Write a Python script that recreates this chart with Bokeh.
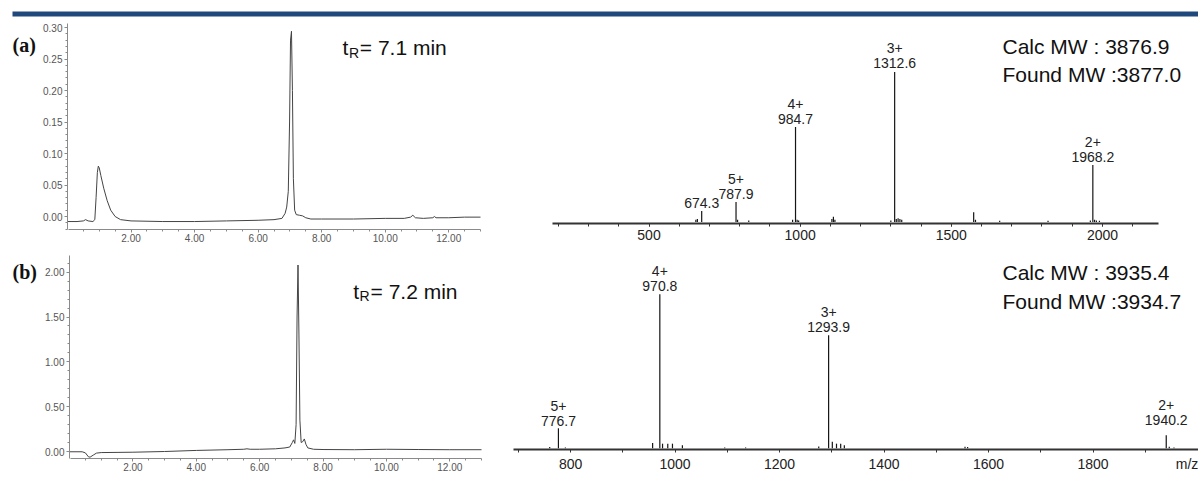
from bokeh.plotting import figure
from bokeh.models import (ColumnDataSource, Range1d, SingleIntervalTicker, FixedTicker,
                          NumeralTickFormatter, Label, LinearAxis)
from bokeh.embed import file_html
from bokeh.resources import INLINE
from bokeh.core.properties import value

# ---------------- data ----------------
# HPLC chromatogram (a): retention time (min) / absorbance
hplc_a_t = [0.0, 0.3, 0.5, 0.57, 0.65, 0.8, 0.86, 0.9, 0.94, 0.97, 1.0, 1.05, 1.14,
            1.25, 1.36, 1.5, 1.67, 2.0, 3.0, 4.0, 5.0, 6.0, 6.5, 6.75, 6.85, 6.9,
            6.95, 6.99, 7.02, 7.05, 7.08, 7.11, 7.15, 7.2, 7.3, 7.4, 7.5, 7.66, 8.0,
            9.0, 10.0, 10.6, 10.8, 10.87, 10.95, 11.2, 11.5, 11.55, 11.6, 12.0, 12.5, 13.0]
hplc_a_abs = [-0.008, -0.008, -0.007, -0.005, -0.007, -0.008, -0.005, 0.03, 0.07, 0.080,
              0.077, 0.065, 0.045, 0.025, 0.010, 0.000, -0.005, -0.007, -0.008, -0.008,
              -0.007, -0.006, -0.005, -0.003, 0.005, 0.015, 0.04, 0.15, 0.28, 0.294, 0.20,
              0.06, 0.01, 0.003, 0.002, 0.001, -0.002, -0.004, -0.004, -0.004, -0.003,
              -0.003, -0.001, 0.002, -0.002, -0.003, -0.002, 0.000, -0.002, -0.002,
              -0.001, -0.001]

# HPLC chromatogram (b)
hplc_b_t = [0.0, 0.4, 0.5, 0.6, 0.65, 0.75, 0.85, 1.0, 1.5, 2.0, 3.0, 4.0, 5.0, 5.5,
            5.6, 5.7, 6.0, 6.5, 6.8, 6.95, 7.03, 7.07, 7.11, 7.15, 7.18, 7.21, 7.24,
            7.27, 7.31, 7.36, 7.41, 7.46, 7.52, 7.7, 8.0, 9.0, 10.0, 11.0, 12.0, 13.0]
hplc_b_abs = [-0.003, -0.003, -0.015, -0.060, -0.063, -0.040, -0.018, -0.012, -0.010,
              -0.008, 0.000, 0.012, 0.020, 0.025, 0.030, 0.025, 0.025, 0.030, 0.040,
              0.050, 0.100, 0.130, 0.090, 0.300, 1.500, 2.080, 1.300, 0.350, 0.100,
              0.110, 0.140, 0.080, 0.040, 0.025, 0.022, 0.020, 0.025, 0.022, 0.020, 0.020]

# ESI-MS (a): all sticks (m/z, relative intensity)
ms_a_mz = [655, 660, 674.3, 787.9, 793, 830, 975, 984.7, 990, 995, 1105, 1110, 1115,
           1300, 1312.6, 1318, 1324, 1330, 1336, 1574, 1580, 1660, 1820, 1960,
           1968.2, 1974, 1980, 1990]
ms_a_int = [1.5, 2.0, 7.3, 13.3, 1.5, 1.0, 1.5, 63.3, 1.5, 1.0, 2.0, 3.5, 1.5,
            1.0, 100.0, 2.0, 2.5, 2.0, 1.5, 6.5, 1.5, 0.8, 0.8, 1.0,
            38.0, 1.5, 1.0, 0.8]
ms_a_label_mz = [674.3, 787.9, 984.7, 1312.6, 1968.2]
ms_a_label_int = [7.3, 13.3, 63.3, 100.0, 38.0]
ms_a_label_charge = ["", "5+", "4+", "3+", "2+"]

# ESI-MS (b)
ms_b_mz = [760, 776.7, 790, 957, 970.8, 976, 986, 995, 1014, 1095, 1135, 1275,
           1293.9, 1301, 1309, 1317, 1324, 1555, 1560, 1940.2, 1946, 1955]
ms_b_int = [0.8, 13.0, 0.5, 3.4, 100.0, 3.0, 3.0, 3.0, 2.0, 0.5, 0.6, 1.2,
            73.4, 4.3, 3.0, 3.0, 2.0, 1.0, 0.8, 8.4, 1.0, 0.6]
ms_b_label_mz = [776.7, 970.8, 1293.9, 1940.2]
ms_b_label_int = [13.0, 100.0, 73.4, 8.4]
ms_b_label_charge = ["5+", "4+", "3+", "2+"]

ms_b_ticks = [800, 1000, 1200, 1400, 1600, 1800]
ms_b_unit = "m/z"

info_a = ["Calc MW : 3876.9", "Found MW :3877.0"]
info_b = ["Calc MW : 3935.4", "Found MW :3934.7"]
tr_a = "= 7.1 min"
tr_b = "= 7.2 min"

# ---------------- styling / layout ----------------
SANS = "Liberation Sans"
SERIF = "Liberation Serif"
BLUE = "#1f497d"
W, H = 1198, 481

p = figure(width=W, height=H, x_range=Range1d(0, W), y_range=Range1d(H, 0),
           output_backend="svg", toolbar_location=None, title=None,
           x_axis_location=None, y_axis_location=None,
           min_border=0, min_border_left=0, min_border_right=0,
           min_border_top=0, min_border_bottom=0)
p.xgrid.visible = False
p.ygrid.visible = False
p.outline_line_color = None


def xrange_(v0, px0, s):
    return Range1d(v0 - px0 / s, v0 + (W - px0) / s)


def yrange_(w0, py0, k):
    return Range1d(w0 - (H - py0) / k, w0 + py0 / k)


# panel coordinate systems (value at a pixel position, pixels per unit)
p.extra_x_ranges = {
    "ta": xrange_(0.0, 67, 413 / 13.0),
    "tb": xrange_(0.0, 69, 412 / 13.0),
    "ma": xrange_(500.0, 648.5, 0.3023),
    "mb": xrange_(800.0, 570.1, 0.5224),
}
p.extra_y_ranges = {
    "aa": yrange_(0.0, 216, 630.0),
    "ab": yrange_(0.0, 451, 89.66),
    "ia": yrange_(0.0, 221.5, 1.5),
    "ib": yrange_(0.0, 447.8, 1.54),
}

# banner (decoration, page coordinates)
p.quad(left=[12], right=[1198], top=[11], bottom=[16], fill_color=BLUE, line_color=None)

# panel tags
p.text(x=[12, 12], y=[44.3, 271.5], text=["(a)", "(b)"], text_font=value(SERIF),
       text_font_style="bold", text_font_size="20px", text_color="#111111",
       text_baseline="middle")


def chrom(t, a, xn, yn, ybot, ytop, yint, tr_text, tr_pos):
    p.line(t, a, line_color="#444444", line_width=1, x_range_name=xn, y_range_name=yn)
    xa = LinearAxis(x_range_name=xn, y_range_name=yn, fixed_location=ybot,
                    bounds=(0.03, 13.0),
                    ticker=SingleIntervalTicker(interval=2, num_minor_ticks=4))
    ya = LinearAxis(x_range_name=xn, y_range_name=yn, fixed_location=0.0,
                    bounds=(ybot, ytop),
                    ticker=SingleIntervalTicker(interval=yint, num_minor_ticks=5))
    for ax in (xa, ya):
        ax.axis_line_color = "#8a8a8a"
        ax.major_tick_line_color = "#8a8a8a"
        ax.minor_tick_line_color = "#8a8a8a"
        ax.major_tick_in = 0
        ax.minor_tick_in = 0
        ax.major_tick_out = 3
        ax.minor_tick_out = 2
        ax.major_label_text_font = SANS
        ax.major_label_text_font_size = "10px"
        ax.major_label_text_color = "#555555"
        ax.major_label_standoff = 2
        ax.formatter = NumeralTickFormatter(format="0.00")
    p.add_layout(xa, "below")
    p.add_layout(ya, "left")
    x0, xr, xe, yb, yrb = tr_pos
    kw = dict(x_range_name=xn, y_range_name=yn, text_font=SANS, text_color="#111111",
              text_baseline="middle")
    p.add_layout(Label(x=x0, y=yb, text="t", text_font_size="21px", **kw))
    p.add_layout(Label(x=xr, y=yrb, text="R", text_font_size="14px", **kw))
    p.add_layout(Label(x=xe, y=yb, text=tr_text, text_font_size="21px", **kw))


def spec(mz, inten, lmz, lint, lcharge, loff, xn, yn, ybot, bounds, ticker,
         info, info_pos):
    src = ColumnDataSource(dict(x=mz, y0=[0] * len(mz), y1=inten))
    p.segment(x0="x", y0="y0", x1="x", y1="y1", source=src, line_color="#151515",
              line_width=1.2, x_range_name=xn, y_range_name=yn)
    lsrc = ColumnDataSource(dict(x=lmz, y=lint, mzt=[f"{v:.1f}" for v in lmz],
                                 ch=lcharge, off=[-o - 5 for o in loff],
                                 off2=[-o - 20 for o in loff]))
    for col, off in (("mzt", "off"), ("ch", "off2")):
        p.text(x="x", y="y", text=col, source=lsrc, y_offset=off, text_align="center",
               text_baseline="middle", text_font=value(SANS),
               text_font_size="14px", text_color="#222222",
               x_range_name=xn, y_range_name=yn)
    ax = LinearAxis(x_range_name=xn, y_range_name=yn, fixed_location=ybot,
                    bounds=bounds, ticker=ticker)
    ax.axis_line_color = "#333333"
    ax.axis_line_width = 2
    ax.major_tick_line_color = "#333333"
    ax.minor_tick_line_color = "#333333"
    ax.major_tick_in = 0
    ax.minor_tick_in = 0
    ax.major_tick_out = 3
    ax.minor_tick_out = 3
    ax.major_label_text_font = SANS
    ax.major_label_text_font_size = "14px"
    ax.major_label_text_color = "#222222"
    ax.major_label_standoff = 3
    p.add_layout(ax, "below")
    xi, y1, y2 = info_pos
    kw = dict(x_range_name=xn, y_range_name=yn, text_font=SANS, text_font_size="21px",
              text_color="#111111", text_baseline="middle")
    p.add_layout(Label(x=xi, y=y1, text=info[0], **kw))
    p.add_layout(Label(x=xi, y=y2, text=info[1], **kw))
    return ax


chrom(hplc_a_t, hplc_a_abs, "ta", "aa", -0.0206, 0.3063, 0.05, tr_a,
      (8.66, 8.86, 9.2, 0.2687, 0.2602))
chrom(hplc_b_t, hplc_b_abs, "tb", "ab", -0.078, 2.186, 0.5, tr_b,
      (8.95, 9.15, 9.5, 1.785, 1.732))

spec(ms_a_mz, ms_a_int, ms_a_label_mz, ms_a_label_int, ms_a_label_charge,
     [3, 3, 3, 4, 3], "ma", "ia", -1.0, (181, 2185),
     SingleIntervalTicker(interval=500, num_minor_ticks=5),
     info_a, (1669.4, 117.0, 98.1))

axb = spec(ms_b_mz, ms_b_int, ms_b_label_mz, ms_b_label_int, ms_b_label_charge,
           [2, 3, 3, 10], "mb", "ib", -0.78, (690, 2002),
           FixedTicker(ticks=ms_b_ticks + [1980],
                       minor_ticks=[700, 800, 900, 1000, 1100, 1200, 1300, 1400,
                                    1500, 1600, 1700, 1800, 1900]),
           info_b, (1626.8, 114.2, 95.3))
axb.major_label_overrides = {1980: ms_b_unit}
axb.major_tick_out = 0

open("out.html", "w").write(file_html(p, INLINE))
